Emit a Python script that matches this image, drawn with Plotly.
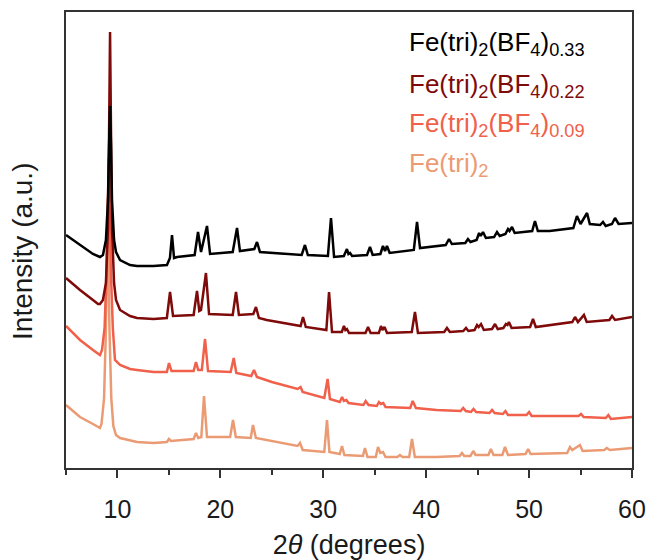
import plotly.graph_objects as go

# ---------------- data (2theta in degrees, intensity in a.u.) ----------------
tt_033 = [5.0, 6.36, 7.62, 8.30, 8.59, 8.88, 9.08, 9.18, 9.28, 9.38, 9.47, 9.67, 9.86, 10.25, 11.22, 11.90,
          13.5, 14.81, 15.1, 15.30, 15.5, 15.8, 17.5, 17.83, 18.12, 18.70, 19.0, 21.2, 21.62, 21.9, 23.3,
          23.56, 23.85, 27.9, 28.22, 28.5, 30.45, 30.75, 31.05, 32.0, 32.30, 32.45, 32.60, 32.8, 34.25,
          34.54, 34.8, 35.55, 35.80, 36.0, 36.19, 36.45, 38.8, 39.11, 39.4, 41.9, 42.22, 42.5, 43.8, 44.06,
          44.3, 44.9, 45.14, 45.3, 45.52, 45.8, 46.6, 46.88, 47.15, 47.7, 47.95, 48.1, 48.34, 48.6, 50.3,
          50.57, 50.85, 52.0, 54.3, 54.65, 55.0, 55.63, 55.9, 56.9, 57.18, 57.45, 58.05, 58.35, 58.7, 60.0]
int_033 = [233, 223, 214, 211, 213, 228, 268, 320, 362, 320, 268, 228, 216, 208, 203, 202,
           202, 203, 210, 233, 210, 211, 213, 236, 216, 242, 214, 216, 240, 217, 219,
           226, 216, 213, 223, 213, 212, 250, 211, 212, 219, 214, 215, 212, 213,
           221, 213, 214, 222, 217, 222, 215, 218, 246, 220, 223, 229, 224, 225, 229,
           226, 228, 235, 232, 236, 230, 231, 236, 232, 234, 239, 237, 241, 235, 237,
           247, 237, 237, 240, 252, 244, 255, 244, 243, 246, 242, 244, 250, 244, 245]

tt_022 = [5.0, 6.36, 7.62, 8.11, 8.30, 8.59, 8.88, 9.08, 9.18, 9.28, 9.38, 9.47, 9.67, 9.86, 10.25, 11.22,
          11.90, 13.5, 14.8, 15.11, 15.4, 17.4, 17.73, 17.95, 18.12, 18.60, 18.9, 21.2, 21.52, 21.8, 23.2,
          23.46, 23.75, 24.5, 27.8, 28.03, 28.3, 30.3, 30.56, 30.85, 31.8, 32.01, 32.15, 32.3, 32.5, 34.1,
          34.35, 34.6, 35.4, 35.61, 35.75, 35.95, 36.2, 38.6, 38.91, 39.2, 41.75, 42.02, 42.3, 43.6, 43.87,
          44.1, 44.7, 44.94, 45.1, 45.33, 45.6, 46.4, 46.69, 46.95, 47.5, 47.75, 47.9, 48.04, 48.3, 50.1,
          50.38, 50.65, 54.2, 54.46, 54.75, 55.33, 55.6, 57.8, 58.06, 58.35, 60.0]
int_022 = [190, 178, 168, 164, 164, 168, 185, 240, 330, 436, 330, 240, 185, 168, 158, 152,
           150, 149, 150, 176, 152, 153, 177, 157, 158, 195, 154, 153, 176, 153, 154,
           161, 150, 148, 142, 151, 141, 138, 176, 136, 136, 142, 138, 139, 135, 135,
           141, 135, 135, 142, 138, 141, 135, 136, 156, 135, 136, 140, 136, 137, 140,
           137, 138, 143, 141, 144, 138, 139, 144, 139, 140, 144, 143, 146, 140, 141,
           149, 141, 146, 151, 146, 153, 146, 148, 152, 148, 151]

tt_009 = [5.0, 6.36, 7.62, 8.11, 8.30, 8.50, 8.75, 8.95, 9.05, 9.15, 9.25, 9.35, 9.55, 9.76, 10.25, 11.22,
          11.90, 13.5, 14.8, 15.01, 15.25, 17.4, 17.63, 17.85, 18.2, 18.51, 18.8, 21.0, 21.3, 21.55, 23.0,
          23.27, 23.55, 25.0, 27.5, 27.8, 28.0, 30.1, 30.42, 30.65, 31.6, 31.83, 32.0, 32.25, 32.45, 33.9,
          34.12, 34.4, 35.2, 35.41, 35.6, 35.83, 36.05, 38.45, 38.69, 39.0, 41.0, 43.35, 43.6, 43.85, 44.35,
          44.6, 44.85, 46.15, 46.4, 46.65, 47.45, 47.7, 47.95, 49.75, 50.0, 50.25, 53.0, 54.8, 55.05, 55.3,
          57.45, 57.7, 57.95, 60.0]
int_009 = [142, 128, 118, 114, 113, 118, 140, 200, 260, 310, 260, 200, 140, 108, 103, 99,
           98, 96, 96, 105, 97, 97, 106, 98, 98, 129, 97, 96, 110, 95, 92,
           98, 91, 86, 79, 81, 76, 70, 89, 69, 66, 71, 67, 68, 65, 63,
           67, 63, 62, 66, 64, 65, 61, 60, 67, 60, 58, 57, 60, 57, 56,
           59, 56, 55, 58, 55, 54, 57, 53, 53, 56, 52, 52, 52, 54, 51,
           50, 53, 49, 51]

tt_000 = [5.0, 6.36, 7.62, 8.11, 8.30, 8.45, 8.70, 8.88, 8.98, 9.05, 9.12, 9.22, 9.40, 9.60, 9.86, 10.25,
          11.90, 13.5, 14.8, 15.0, 15.2, 17.4, 17.63, 17.85, 18.15, 18.41, 18.7, 20.95, 21.23, 21.5, 22.95,
          23.17, 23.45, 25.0, 27.5, 27.74, 28.0, 30.1, 30.36, 30.6, 31.6, 31.82, 32.05, 33.85, 34.05, 34.3,
          35.1, 35.32, 35.55, 35.8, 36.05, 37.2, 37.45, 37.7, 38.35, 38.62, 38.9, 41.0, 43.25, 43.48, 43.7,
          44.3, 44.57, 44.8, 46.05, 46.28, 46.55, 47.4, 47.66, 47.95, 49.65, 49.91, 50.15, 53.7, 53.97, 54.2,
          54.94, 55.2, 57.3, 57.55, 57.85, 60.0]
int_000 = [63, 51, 44, 41, 40, 44, 70, 140, 210, 270, 210, 140, 70, 42, 33, 30,
           26, 25, 26, 29, 27, 29, 35, 30, 31, 72, 31, 31, 48, 31, 30,
           43, 30, 27, 22, 25, 18, 16, 48, 16, 14, 22, 13, 12, 20, 11,
           11, 21, 15, 16, 11, 11, 13, 11, 11, 29, 11, 11, 12, 15, 12,
           12, 17, 13, 13, 19, 13, 13, 21, 13, 14, 19, 14, 15, 21, 18,
           23, 17, 18, 20, 18, 20]

series_names = ["Fe(tri)<sub>2</sub>(BF<sub>4</sub>)<sub>0.33</sub>",
                "Fe(tri)<sub>2</sub>(BF<sub>4</sub>)<sub>0.22</sub>",
                "Fe(tri)<sub>2</sub>(BF<sub>4</sub>)<sub>0.09</sub>",
                "Fe(tri)<sub>2</sub>"]
series_x = [tt_033, tt_022, tt_009, tt_000]
series_y = [int_033, int_022, int_009, int_000]
series_colors = ["#000000", "#7f0a0a", "#f0604a", "#eb9b74"]

x_ticks = [10, 20, 30, 40, 50, 60]

FONT = "Liberation Sans, Arial, Helvetica, sans-serif"

fig = go.Figure()
# draw bottom series first so the top series sit on top
for xs, ys, col, name in reversed(list(zip(series_x, series_y, series_colors, series_names))):
    fig.add_trace(go.Scatter(x=xs, y=ys, mode="lines", name=name,
                             line=dict(color=col, width=2.5), showlegend=False))

# legend-like coloured labels
label_y = [0.93, 0.838, 0.753, 0.665]
for name, col, yy in zip(series_names, series_colors, label_y):
    fig.add_annotation(x=0.6025, y=yy, xref="paper", yref="paper", text=name,
                       showarrow=False, xanchor="left", yanchor="middle",
                       font=dict(family=FONT, size=26, color=col))

fig.add_annotation(x=-0.076, y=0.476, xref="paper", yref="paper", text="Intensity (a.u.)",
                   textangle=-90, showarrow=False, xanchor="center", yanchor="middle",
                   font=dict(family=FONT, size=28, color="#1a1a1a"))

fig.update_layout(
    width=646, height=560,
    margin=dict(l=66, r=14, t=12, b=92),
    paper_bgcolor="white", plot_bgcolor="white",
    font=dict(family=FONT, size=24, color="#1a1a1a"),
)
fig.update_xaxes(range=[5, 60], tickvals=x_ticks, ticks="outside", ticklen=8, tickwidth=1.6,
                 tickcolor="#333", showline=True, linecolor="#333", linewidth=2, mirror=True,
                 showgrid=False, zeroline=False, automargin=False, ticklabelstandoff=10,
                 tickfont=dict(size=25, family=FONT, color="#1a1a1a"),
                 minor=dict(dtick=5, tick0=0, ticks="outside", ticklen=5, tickwidth=1.6, tickcolor="#333"),
                 title=dict(text="2<i>θ</i> (degrees)", font=dict(size=27, family=FONT, color="#1a1a1a"),
                            standoff=14))
fig.update_yaxes(range=[0, 456], showticklabels=False, ticks="", showline=True, linecolor="#333",
                 linewidth=2, mirror=True, showgrid=False, zeroline=False, automargin=False)

fig.write_html("out.html")
